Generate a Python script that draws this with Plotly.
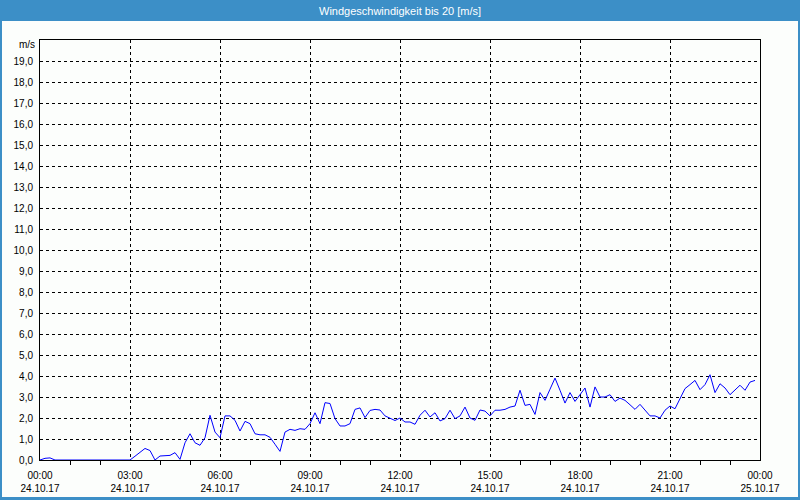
import pandas as pd
import plotly.graph_objects as go

# 10-minute samples, 24.10.17 00:00 .. 23:50
wind = [
    0.0, 0.08, 0.1, 0.0, 0.0, 0.0, 0.0, 0.0, 0.0, 0.0, 0.0, 0.0,
    0.0, 0.0, 0.0, 0.0, 0.0, 0.0, 0.0, 0.18, 0.38, 0.55, 0.45, 0.0,
    0.19, 0.22, 0.22, 0.35, 0.03, 0.82, 1.25, 0.82, 0.7, 1.06, 2.13, 1.33,
    1.06, 2.1, 2.1, 1.89, 1.38, 1.84, 1.73, 1.25, 1.2, 1.2, 1.08, 0.75,
    0.41, 1.33, 1.46, 1.41, 1.49, 1.46, 1.73, 2.25, 1.73, 2.73, 2.69, 1.97,
    1.62, 1.62, 1.73, 2.41, 2.48, 2.02, 2.36, 2.41, 2.38, 2.1, 1.98, 1.88,
    2.0, 1.81, 1.81, 1.7, 2.13, 2.37, 2.05, 2.25, 1.86, 1.97, 2.37, 1.97,
    2.1, 2.52, 2.0, 1.89, 2.38, 2.33, 2.1, 2.37, 2.37, 2.41, 2.52, 2.57,
    3.32, 2.6, 2.65, 2.17, 3.21, 2.84, 3.37, 3.9, 3.32, 2.71, 3.21, 2.79,
    3.11, 3.43, 2.52, 3.48, 3.0, 3.0, 3.11, 2.79, 2.95, 2.84, 2.63, 2.41,
    2.65, 2.37, 2.1, 2.1, 2.0, 2.37, 2.57, 2.44, 2.95, 3.4, 3.59, 3.79,
    3.35, 3.59, 4.06, 3.21, 3.63, 3.43, 3.11, 3.32, 3.56, 3.32, 3.71, 3.79,
]
times = pd.date_range("2017-10-24 00:00", periods=len(wind), freq="10min")

y_tickvals = list(range(0, 20))
y_ticktext = [f"{v},0" for v in y_tickvals]

title_text = "Windgeschwindigkeit bis 20 [m/s]"
unit_text = "m/s"

BLUE = "#3c8fc7"
BG = "#fcfefc"
FONT = "Liberation Sans"

fig = go.Figure()
fig.add_trace(go.Scatter(x=times, y=wind, mode="lines",
                         line=dict(color="#0000ff", width=1), hoverinfo="skip"))

W, H = 800, 500
L, R, T, B = 40, 40, 40, 40
pw, ph = W - L - R, H - T - B


def px(x):
    return (x - L) / pw


def py(y):
    return (H - B - y) / ph


shapes = [
    dict(type="rect", xref="paper", yref="paper", x0=px(0), x1=px(800), y0=py(21), y1=py(0),
         fillcolor=BLUE, line=dict(width=0), layer="below"),
    dict(type="rect", xref="paper", yref="paper", x0=px(0), x1=px(2), y0=py(500), y1=py(0),
         fillcolor=BLUE, line=dict(width=0), layer="below"),
    dict(type="rect", xref="paper", yref="paper", x0=px(798), x1=px(800), y0=py(500), y1=py(0),
         fillcolor=BLUE, line=dict(width=0), layer="below"),
    dict(type="rect", xref="paper", yref="paper", x0=px(0), x1=px(800), y0=py(500), y1=py(497),
         fillcolor=BLUE, line=dict(width=0), layer="below"),
]

fig.update_layout(
    width=W, height=H,
    margin=dict(l=L, r=R, t=T, b=B, autoexpand=False),
    paper_bgcolor=BG, plot_bgcolor=BG,
    showlegend=False,
    separators=",.",
    font=dict(family=FONT, size=10, color="#000000"),
    shapes=shapes,
    annotations=[
        dict(text=title_text, xref="paper", yref="paper", x=0.5, y=py(10.5),
             xanchor="center", yanchor="middle", showarrow=False,
             font=dict(family=FONT, size=11, color="white")),
        dict(text=unit_text, xref="paper", yref="y", x=0, y=19.8,
             xanchor="right", yanchor="middle", xshift=-3, showarrow=False,
             font=dict(family=FONT, size=10, color="#000000")),
    ],
    xaxis=dict(
        type="date",
        range=["2017-10-24 00:00", "2017-10-25 00:00"],
        tick0="2017-10-24 00:00", dtick=3 * 3600000,
        tickformat="%H:%M<br>%d.%m.%y",
        ticks="", ticklabelstandoff=6,
        showgrid=True, gridcolor="#000000", gridwidth=1, griddash="3px,3px",
        showline=True, linecolor="#000000", linewidth=1, mirror=True,
        zeroline=False, layer="above traces",
        minor=dict(dtick=3600000, ticks="outside", ticklen=4, tickcolor="#000000",
                   tickwidth=1, showgrid=False),
        fixedrange=True,
    ),
    yaxis=dict(
        range=[0, 20],
        tickmode="array", tickvals=y_tickvals, ticktext=y_ticktext,
        ticks="", ticklabelstandoff=4,
        showgrid=True, gridcolor="#000000", gridwidth=1, griddash="3px,3px",
        showline=True, linecolor="#000000", linewidth=1, mirror=True,
        zeroline=False, layer="above traces",
        fixedrange=True,
    ),
)

fig.write_html("out.html")
